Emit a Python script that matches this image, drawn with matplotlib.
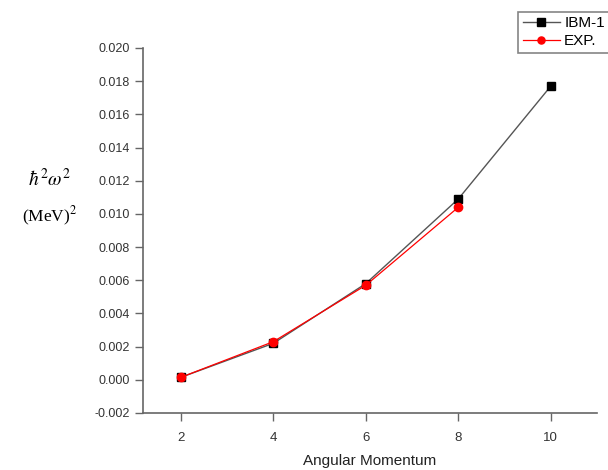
import matplotlib.pyplot as plt

# angular momentum values and energies squared
spin_ibm = [2, 4, 6, 8, 10]
ibm_values = [0.00015, 0.0022, 0.0058, 0.0109, 0.0177]

spin_exp = [2, 4, 6, 8]
exp_values = [0.00015, 0.0023, 0.0057, 0.0104]

y_ticks = [-0.002, 0.000, 0.002, 0.004, 0.006, 0.008, 0.010,
           0.012, 0.014, 0.016, 0.018, 0.020]
x_ticks = [2, 4, 6, 8, 10]

plt.rcParams["font.family"] = ["Liberation Sans", "DejaVu Sans"]
plt.rcParams["mathtext.fontset"] = "stix"

fig = plt.figure(figsize=(6.08, 4.70), dpi=100)
ax = fig.add_axes([0.2352, 0.1213, 0.7467, 0.7766])

ax.plot(spin_ibm, ibm_values, color="#555555", lw=1.0, marker="s",
        ms=6, mfc="black", mec="black", label="IBM-1")
ax.plot(spin_exp, exp_values, color="red", lw=0.9, marker="o",
        ms=6, mfc="red", mec="red", label="EXP.")

ax.set_xlim(1.18, 11.0)
ax.set_ylim(-0.002, 0.020)
ax.set_xticks(x_ticks)
ax.set_yticks(y_ticks)
ax.set_yticklabels([f"{v:.3f}" for v in y_ticks])

for side in ["top", "right"]:
    ax.spines[side].set_visible(False)
for side in ["left", "bottom"]:
    ax.spines[side].set_color("#666666")
    ax.spines[side].set_linewidth(1.2)

ax.tick_params(axis="both", direction="out", length=6, width=1,
               color="#666666", labelcolor="#333333", labelsize=9)
ax.tick_params(axis="x", pad=8, labelsize=9.5)

ax.set_xlabel("Angular Momentum", fontsize=11, color="#222222", labelpad=7)

fig.text(0.082, 0.62, r"$\hbar^2\omega^2$", fontsize=14,
         ha="center", va="center")
fig.text(0.082, 0.54, r"(MeV)$^2$", fontsize=12.5,
         family=["Liberation Serif", "DejaVu Serif"], ha="center", va="center")

leg = ax.legend(loc="upper left", bbox_to_anchor=(0.81, 1.12),
                fontsize=11, handlelength=2.4, frameon=True, fancybox=False,
                borderpad=0.3, labelspacing=0.25, handletextpad=0.3,
                markerscale=0.85)
leg.get_frame().set_edgecolor("#666666")
leg.get_frame().set_linewidth(1.2)

fig.savefig("out.png", dpi=100)
